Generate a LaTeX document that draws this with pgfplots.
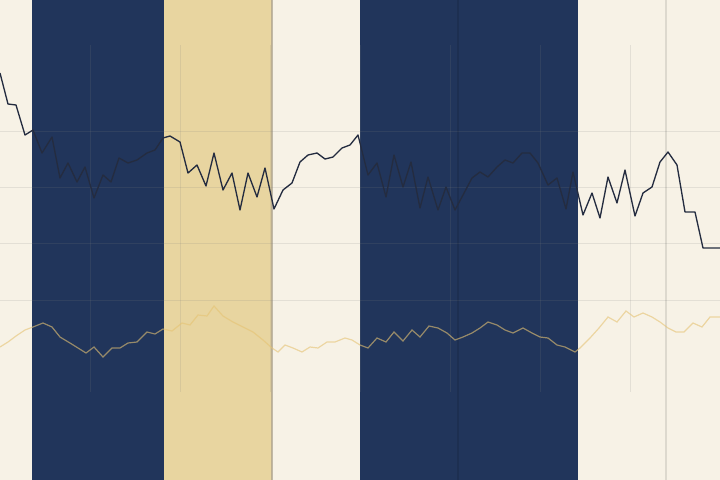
\documentclass[border=0pt]{standalone}
\usepackage{pgfplots}
\pgfplotsset{compat=1.18}
\definecolor{cream}{RGB}{247,242,230}
\definecolor{navy}{RGB}{33,53,91}
\definecolor{goldband}{RGB}{232,213,160}
\definecolor{darkline}{RGB}{36,44,64}
\definecolor{goldline}{RGB}{230,195,115}
\begin{document}
\begin{tikzpicture}
\begin{axis}[
  scale only axis, width=7.5in, height=5in,
  xmin=0, xmax=720, ymin=0, ymax=480, y dir=reverse,
  xtick=\empty, ytick=\empty,
  axis line style={draw=none},
  axis background/.style={fill=cream},
  clip=true,
]
% bands
\addplot[fill=navy, draw=none] coordinates {(32,-10) (164,-10) (164,490) (32,490)} --cycle;
\addplot[fill=goldband, draw=none] coordinates {(164,-10) (272,-10) (272,490) (164,490)} --cycle;
\addplot[fill=navy, draw=none] coordinates {(360,-10) (578,-10) (578,490) (360,490)} --cycle;
% band edge
\addplot[draw={rgb,255:red,170;green,160;blue,140}, line width=0.8pt, opacity=0.7] coordinates {(272,-10) (272,490)};
% grid
\pgfplotsinvokeforeach{131,187,243,300}{
  \addplot[draw=gray, opacity=0.16, line width=0.75pt] coordinates {(-10,#1) (730,#1)};
}
\pgfplotsinvokeforeach{90,180,270,360,450,540,630}{
  \addplot[draw=gray, opacity=0.16, line width=0.75pt] coordinates {(#1,45) (#1,392)};
}
% event lines
\addplot[draw=black, opacity=0.1, line width=0.9pt] coordinates {(458,-10) (458,490)};
\addplot[draw=black, opacity=0.1, line width=0.9pt] coordinates {(666,-10) (666,490)};
% lower series
\addplot[draw=goldline, opacity=0.6, line width=0.9pt] coordinates {
(0,347)(8,342)(16,336)(25,330)(33,327)(43,323)(52,327)(60,337)(70,343)(78,348)(86,353)(94,347)(103,357)(112,348)(120,348)(128,343)(137,342)(147,332)(155,334)(163,329)(172,331)(182,323)(190,325)(198,315)(207,316)(214,306)(223,316)(233,322)(243,327)(253,332)(263,340)(272,348)(278,352)(285,345)(293,348)(302,352)(310,347)(318,348)(327,342)(335,342)(345,338)(352,340)(360,345)(368,348)(377,338)(386,342)(394,332)(403,341)(412,330)(420,337)(429,326)(438,328)(447,333)(455,340)(463,337)(472,333)(480,328)(488,322)(497,325)(505,330)(513,333)(523,328)(532,333)(540,337)(548,338)(557,345)(565,347)(575,352)(580,348)(590,338)(599,328)(608,317)(617,322)(626,311)(634,317)(643,313)(652,317)(660,322)(668,328)(676,332)(684,332)(693,323)(702,327)(710,317)(720,317)
};
% upper series
\addplot[draw=darkline, line width=1.0pt, line join=round] coordinates {
(0,73)(8,104)(16,105)(25,135)(33,130)(42,153)(52,137)(60,178)(68,163)(77,182)(85,167)(94,198)(103,175)(111,182)(119,158)(128,163)(137,160)(147,153)(155,150)(163,138)(170,136)(180,142)(188,173)(197,165)(206,186)(214,153)(223,190)(232,173)(240,210)(248,173)(257,197)(265,168)(274,209)(283,190)(292,183)(300,162)(308,155)(317,153)(325,159)(333,157)(342,148)(350,145)(358,135)(368,175)(377,163)(386,197)(394,155)(403,187)(411,162)(420,208)(428,177)(438,210)(446,187)(455,210)(463,195)(472,178)(480,172)(488,177)(497,167)(505,160)(513,163)(522,153)(530,153)(538,163)(548,185)(557,178)(566,209)(573,172)(583,215)(592,193)(600,218)(608,177)(617,203)(625,170)(635,216)(643,193)(652,187)(660,162)(668,152)(677,165)(685,212)(695,212)(703,248)(720,248)
};
\end{axis}
\end{tikzpicture}
\end{document}
